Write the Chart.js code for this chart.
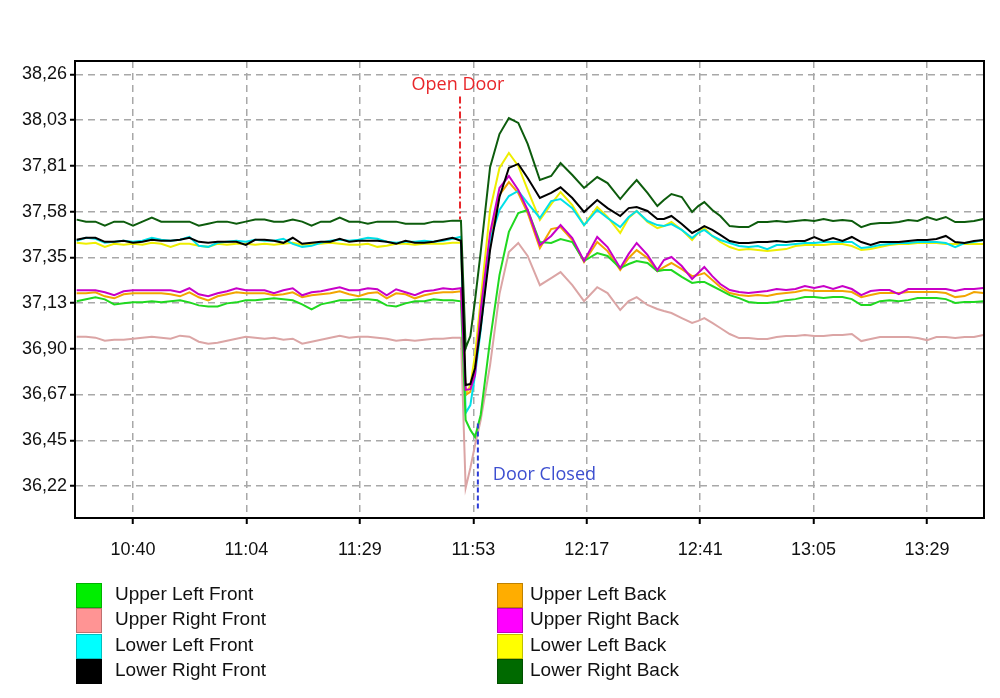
<!DOCTYPE html>
<html>
<head>
<meta charset="utf-8">
<title>Temperature chart</title>
<script src="https://cdn.jsdelivr.net/npm/chart.js@4.4.1/dist/chart.umd.min.js"></script>
<style>
  html, body { margin: 0; padding: 0; background: #fff; }
  #wrap { position: relative; width: 1000px; height: 698px; overflow: hidden; }
  #chart { position: absolute; left: 0; top: 0; }
  .legend-item { position: absolute; height: 25px; line-height: 25px; white-space: nowrap;
    font: 19px "Liberation Sans", Arial, sans-serif; color: #111; }
  .legend-item .sw { position: absolute; left: 0; top: 0; width: 26px; height: 25px;
    box-sizing: border-box; border: 1px solid rgba(0, 0, 0, 0.25); }
  .legend-item .tx { position: absolute; top: 0; }
</style>
</head>
<body>
<div id="wrap">
  <canvas id="chart" width="1000" height="698"></canvas>
  <div id="legend"></div>
</div>
<script>
// time of each reading, minutes after midnight
const minutesOfDay = [
  628, 630, 632, 634, 636, 638, 640, 642, 644, 646, 648, 650, 652, 654, 656, 658, 660, 662, 664, 666,
  668, 670, 672, 674, 676, 678, 680, 682, 684, 686, 688, 690, 692, 694, 696, 698, 700, 702, 704, 706,
  708, 709.8,
  710.8, 711.8, 712.8,
  714, 716, 718, 720, 722, 724, 726.6, 729, 731, 733.5, 736, 738.8, 741, 743.7, 745.5, 747.2, 749.5,
  751.6, 753, 754.6, 756.8, 759, 760.3, 761.6, 763.3, 765,
  767, 769, 771, 773, 775, 777, 779, 781, 783, 785, 787, 789, 791, 793, 795, 797, 799, 801, 803, 805,
  807, 809, 811, 813, 815, 817, 819, 821
];

const xTickLabels = ['10:40', '11:04', '11:29', '11:53', '12:17', '12:41', '13:05', '13:29'];
const yTickLabels = ['36,22', '36,45', '36,67', '36,90', '37,13', '37,35', '37,58', '37,81', '38,03', '38,26'];

const seriesNames = [
  'Upper Left Front', 'Upper Right Front', 'Lower Left Front', 'Lower Right Front',
  'Upper Left Back', 'Upper Right Back', 'Lower Left Back', 'Lower Right Back'
];

const upperLeftFront = [
  37.135, 37.145, 37.155, 37.145, 37.12, 37.125, 37.13, 37.13, 37.135, 37.13, 37.135, 37.14, 37.13, 37.115,
  37.11, 37.11, 37.125, 37.13, 37.14, 37.14, 37.145, 37.15, 37.145, 37.14, 37.12, 37.095, 37.12, 37.13,
  37.14, 37.14, 37.145, 37.145, 37.14, 37.115, 37.11, 37.125, 37.135, 37.135, 37.145, 37.14, 37.14, 37.135,
  36.547, 36.498, 36.463,
  36.572, 36.943, 37.265, 37.479, 37.573, 37.588, 37.429, 37.424, 37.444, 37.429, 37.335, 37.374, 37.36,
  37.30, 37.32, 37.335, 37.325, 37.285, 37.29, 37.29, 37.256, 37.226, 37.231, 37.231, 37.211, 37.191,
  37.166, 37.151, 37.132, 37.127, 37.127, 37.132, 37.141, 37.146, 37.156, 37.156, 37.151, 37.156, 37.156,
  37.146, 37.117, 37.117, 37.136, 37.141, 37.136, 37.141, 37.151, 37.151, 37.151, 37.146, 37.127, 37.132,
  37.132, 37.136
];
const upperRightFront = [
  36.96, 36.96, 36.955, 36.94, 36.945, 36.945, 36.95, 36.955, 36.96, 36.955, 36.95, 36.965, 36.96, 36.935,
  36.925, 36.93, 36.94, 36.95, 36.96, 36.955, 36.95, 36.955, 36.945, 36.95, 36.925, 36.935, 36.945, 36.955,
  36.965, 36.955, 36.96, 36.96, 36.955, 36.95, 36.94, 36.945, 36.94, 36.945, 36.95, 36.95, 36.955, 36.955,
  36.21, 36.309, 36.423,
  36.547, 36.819, 37.171, 37.379, 37.424, 37.36, 37.215, 37.25, 37.28, 37.215, 37.136, 37.205, 37.176,
  37.092, 37.136, 37.156, 37.117, 37.097, 37.087, 37.077, 37.052, 37.028, 37.038, 37.052, 37.028, 37.003,
  36.973, 36.953, 36.953, 36.948, 36.948, 36.958, 36.963, 36.963, 36.968, 36.963, 36.963, 36.968, 36.968,
  36.973, 36.938, 36.948, 36.958, 36.958, 36.958, 36.958, 36.953, 36.943, 36.958, 36.958, 36.953, 36.958,
  36.958, 36.968
];
const lowerLeftFront = [
  37.435, 37.45, 37.445, 37.425, 37.43, 37.435, 37.43, 37.435, 37.45, 37.44, 37.435, 37.44, 37.455, 37.41,
  37.405, 37.425, 37.43, 37.435, 37.43, 37.44, 37.435, 37.435, 37.445, 37.42, 37.405, 37.41, 37.425, 37.435,
  37.44, 37.435, 37.44, 37.45, 37.445, 37.43, 37.425, 37.43, 37.43, 37.435, 37.43, 37.435, 37.445, 37.455,
  36.582, 36.621, 36.77,
  36.993, 37.439, 37.588, 37.657, 37.682, 37.622, 37.548, 37.632, 37.642, 37.597, 37.513, 37.588, 37.548,
  37.503, 37.553, 37.583, 37.533, 37.513, 37.508, 37.518, 37.489, 37.449, 37.474, 37.489, 37.459, 37.439,
  37.424, 37.409, 37.404, 37.409, 37.394, 37.414, 37.414, 37.419, 37.424, 37.424, 37.429, 37.429, 37.429,
  37.429, 37.399, 37.404, 37.414, 37.419, 37.424, 37.424, 37.429, 37.429, 37.429, 37.424, 37.404, 37.424,
  37.429, 37.439
];
const lowerRightFront = [
  37.44, 37.45, 37.45, 37.43, 37.43, 37.435, 37.425, 37.43, 37.44, 37.435, 37.435, 37.44, 37.45, 37.43,
  37.425, 37.43, 37.43, 37.43, 37.415, 37.44, 37.44, 37.435, 37.425, 37.45, 37.42, 37.425, 37.43, 37.43,
  37.445, 37.43, 37.435, 37.435, 37.435, 37.43, 37.42, 37.435, 37.425, 37.425, 37.43, 37.44, 37.45, 37.435,
  36.72, 36.725, 36.805,
  37.003, 37.389, 37.652, 37.796, 37.816, 37.746, 37.647, 37.672, 37.70, 37.647, 37.578, 37.637, 37.597,
  37.558, 37.597, 37.602, 37.583, 37.543, 37.543, 37.558, 37.518, 37.474, 37.489, 37.508, 37.489, 37.464,
  37.434, 37.424, 37.424, 37.429, 37.429, 37.434, 37.429, 37.434, 37.434, 37.454, 37.434, 37.449, 37.434,
  37.454, 37.429, 37.414, 37.429, 37.429, 37.429, 37.434, 37.439, 37.439, 37.444, 37.459, 37.429, 37.424,
  37.434, 37.439
];
const upperLeftBack = [
  37.175, 37.175, 37.18, 37.16, 37.15, 37.17, 37.175, 37.175, 37.175, 37.175, 37.17, 37.16, 37.18, 37.155,
  37.14, 37.16, 37.17, 37.18, 37.175, 37.175, 37.175, 37.165, 37.17, 37.18, 37.155, 37.165, 37.17, 37.175,
  37.185, 37.17, 37.16, 37.175, 37.18, 37.15, 37.175, 37.17, 37.15, 37.165, 37.175, 37.18, 37.18, 37.185,
  36.671, 36.686, 36.795,
  37.067, 37.449, 37.662, 37.726, 37.672, 37.573, 37.399, 37.493, 37.503, 37.439, 37.33, 37.429, 37.384,
  37.29, 37.35, 37.389, 37.35, 37.285, 37.305, 37.325, 37.295, 37.26, 37.265, 37.275, 37.241, 37.206,
  37.176, 37.166, 37.161, 37.166, 37.161, 37.171, 37.176, 37.181, 37.191, 37.186, 37.186, 37.186, 37.186,
  37.181, 37.156, 37.166, 37.176, 37.176, 37.176, 37.181, 37.181, 37.181, 37.181, 37.176, 37.156, 37.161,
  37.181, 37.176
];
const upperRightBack = [
  37.19, 37.19, 37.19, 37.18, 37.165, 37.185, 37.19, 37.19, 37.19, 37.19, 37.19, 37.18, 37.2, 37.17,
  37.16, 37.175, 37.185, 37.2, 37.19, 37.19, 37.19, 37.175, 37.19, 37.2, 37.165, 37.18, 37.185, 37.195,
  37.205, 37.19, 37.19, 37.2, 37.195, 37.165, 37.195, 37.18, 37.165, 37.185, 37.19, 37.2, 37.195, 37.2,
  36.696, 36.70, 36.77,
  37.092, 37.474, 37.697, 37.756, 37.687, 37.588, 37.414, 37.459, 37.513, 37.449, 37.335, 37.454, 37.404,
  37.30, 37.37, 37.424, 37.365, 37.29, 37.34, 37.355, 37.31, 37.246, 37.275, 37.305, 37.26, 37.221,
  37.191, 37.181, 37.176, 37.181, 37.186, 37.196, 37.191, 37.196, 37.211, 37.201, 37.211, 37.196, 37.211,
  37.196, 37.166, 37.186, 37.191, 37.191, 37.171, 37.196, 37.196, 37.196, 37.196, 37.196, 37.186, 37.196,
  37.196, 37.201
];
const lowerLeftBack = [
  37.425, 37.42, 37.425, 37.405, 37.42, 37.415, 37.42, 37.415, 37.425, 37.42, 37.405, 37.42, 37.42, 37.41,
  37.405, 37.42, 37.415, 37.42, 37.42, 37.415, 37.42, 37.415, 37.42, 37.425, 37.415, 37.42, 37.42, 37.425,
  37.42, 37.415, 37.415, 37.42, 37.405, 37.41, 37.42, 37.42, 37.415, 37.42, 37.42, 37.42, 37.425, 37.425,
  36.671, 36.72, 36.87,
  37.142, 37.588, 37.796, 37.87, 37.806, 37.687, 37.538, 37.617, 37.677, 37.612, 37.513, 37.602, 37.553,
  37.474, 37.548, 37.583, 37.528, 37.498, 37.508, 37.528, 37.489, 37.439, 37.474, 37.498, 37.459, 37.429,
  37.404, 37.389, 37.394, 37.389, 37.384, 37.389, 37.394, 37.409, 37.414, 37.414, 37.414, 37.419, 37.419,
  37.409, 37.389, 37.394, 37.404, 37.414, 37.419, 37.419, 37.424, 37.424, 37.424, 37.419, 37.419, 37.419,
  37.419, 37.419
];
const lowerRightBack = [
  37.54, 37.53, 37.53, 37.51, 37.53, 37.53, 37.51, 37.53, 37.55, 37.53, 37.53, 37.53, 37.53, 37.51,
  37.52, 37.53, 37.53, 37.52, 37.53, 37.54, 37.54, 37.53, 37.53, 37.54, 37.53, 37.51, 37.53, 37.53,
  37.55, 37.53, 37.53, 37.52, 37.53, 37.53, 37.53, 37.52, 37.52, 37.52, 37.53, 37.53, 37.535, 37.535,
  36.904, 36.963, 37.141,
  37.379, 37.80, 37.964, 38.043, 38.019, 37.915, 37.736, 37.756, 37.82, 37.761, 37.697, 37.751, 37.721,
  37.642, 37.692, 37.736, 37.672, 37.607, 37.637, 37.667, 37.652, 37.578, 37.607, 37.627, 37.588, 37.558,
  37.508, 37.503, 37.503, 37.528, 37.528, 37.533, 37.528, 37.533, 37.538, 37.533, 37.543, 37.533, 37.538,
  37.533, 37.503, 37.518, 37.523, 37.523, 37.528, 37.538, 37.533, 37.553, 37.538, 37.553, 37.528, 37.528,
  37.533, 37.543
];

// door events (minutes after midnight)
const openDoorMinute = 709.6;
const doorClosedMinute = 713.4;

const allSeries = [upperLeftFront, upperRightFront, lowerLeftFront, lowerRightFront,
  upperLeftBack, upperRightBack, lowerLeftBack, lowerRightBack];
const lineColors = ['#20d820', '#dba5a5', '#00e0e8', '#000000', '#f2a500', '#c800c8', '#eeee00', '#0d5c0d'];
const swatchColors = ['#00ee00', '#ff9494', '#00ffff', '#000000', '#ffad00', '#ff00ff', '#ffff00', '#006a00'];
const drawOrder = [2, 2, 2, 1, 2, 1, 3, 1];

const toMinutes = (t) => { const p = t.split(':'); return +p[0] * 60 + +p[1]; };
const xFirst = toMinutes(xTickLabels[0]);
const xStep = (toMinutes(xTickLabels[xTickLabels.length - 1]) - xFirst) / (xTickLabels.length - 1);
const xTickValues = xTickLabels.map((l, i) => xFirst + i * xStep);
const yFirst = parseFloat(yTickLabels[0].replace(',', '.'));
const yStep = (parseFloat(yTickLabels[yTickLabels.length - 1].replace(',', '.')) - yFirst) / (yTickLabels.length - 1);
const yTickValues = yTickLabels.map((l, i) => yFirst + i * yStep);

const tickFont = { family: '"Liberation Sans", Arial, sans-serif', size: 18 };

// black box round the plot area
const frame = {
  id: 'frame',
  afterDatasetsDraw(chart) {
    const { ctx, chartArea: a } = chart;
    ctx.save();
    ctx.strokeStyle = '#000';
    ctx.lineWidth = 2;
    ctx.strokeRect(a.left, a.top, a.right - a.left, a.bottom - a.top);
    ctx.restore();
  }
};

// open / closed door markers
const doorMarks = {
  id: 'doorMarks',
  afterDatasetsDraw(chart) {
    const { ctx, scales: { x, y } } = chart;
    ctx.save();
    ctx.lineWidth = 2;
    // open door
    let px = x.getPixelForValue(openDoorMinute);
    ctx.strokeStyle = '#e8262a';
    ctx.setLineDash([7, 3, 2, 3]);
    ctx.beginPath();
    ctx.moveTo(px, y.getPixelForValue(38.15));
    ctx.lineTo(px, y.getPixelForValue(37.54));
    ctx.stroke();
    ctx.setLineDash([]);
    ctx.fillStyle = '#e8262a';
    ctx.font = '18px "Open Sans", sans-serif';
    ctx.textAlign = 'center';
    ctx.textBaseline = 'middle';
    ctx.fillText('Open Door', px - 2, y.getPixelForValue(38.208));
    // door closed
    px = x.getPixelForValue(doorClosedMinute);
    ctx.strokeStyle = '#2a3ad8';
    ctx.setLineDash([5, 3]);
    ctx.beginPath();
    ctx.moveTo(px, y.getPixelForValue(36.53));
    ctx.lineTo(px, y.getPixelForValue(36.10));
    ctx.stroke();
    ctx.setLineDash([]);
    ctx.fillStyle = '#3d4fd0';
    ctx.textAlign = 'left';
    ctx.fillText('Door Closed', px + 15, y.getPixelForValue(36.275));
    ctx.restore();
  }
};

const chart = new Chart(document.getElementById('chart').getContext('2d'), {
  type: 'line',
  data: {
    datasets: allSeries.map((values, i) => ({
      label: seriesNames[i],
      data: values.map((v, j) => ({ x: minutesOfDay[j], y: v })),
      borderColor: lineColors[i],
      backgroundColor: swatchColors[i],
      order: drawOrder[i]
    }))
  },
  options: {
    responsive: false,
    animation: false,
    layout: { padding: { left: 0, right: 16, top: 61, bottom: 128 } },
    elements: {
      point: { radius: 0 },
      line: { borderWidth: 2, tension: 0 }
    },
    plugins: {
      legend: { display: false },
      tooltip: { enabled: false }
    },
    scales: {
      x: {
        type: 'linear',
        min: 627.65,
        max: 821.13,
        afterBuildTicks: (scale) => { scale.ticks = xTickValues.map((v) => ({ value: v })); },
        afterFit: (scale) => { scale.height = 52; },
        ticks: {
          callback: (value, index) => xTickLabels[index],
          font: tickFont,
          color: '#111',
          padding: 15,
          maxRotation: 0,
          autoSkip: false
        },
        grid: { color: '#a8a8a8', lineWidth: 1.5, tickLength: 6, tickColor: '#000', tickWidth: 2 },
        border: { color: '#000', width: 2, dash: [7, 5] }
      },
      y: {
        min: 36.0614,
        max: 38.326,
        afterBuildTicks: (scale) => { scale.ticks = yTickValues.map((v) => ({ value: v })); },
        afterFit: (scale) => { scale.width = 75; },
        ticks: {
          callback: (value, index) => yTickLabels[index],
          font: tickFont,
          color: '#111',
          padding: 3,
          autoSkip: false
        },
        grid: { color: '#a8a8a8', lineWidth: 1.5, tickLength: 5, tickColor: '#000', tickWidth: 2 },
        border: { color: '#000', width: 2, dash: [7, 5] }
      }
    }
  },
  plugins: [frame, doorMarks]
});

// legend in two columns of four, built from the datasets
const legendEl = document.getElementById('legend');
chart.data.datasets.forEach((ds, i) => {
  const col = Math.floor(i / 4);
  const row = i % 4;
  const item = document.createElement('div');
  item.className = 'legend-item';
  item.style.left = (col ? 497 : 76) + 'px';
  item.style.top = (583 + row * 25.3) + 'px';
  const sw = document.createElement('span');
  sw.className = 'sw';
  sw.style.background = ds.backgroundColor;
  const tx = document.createElement('span');
  tx.className = 'tx';
  tx.style.left = (col ? 33 : 39) + 'px';
  tx.textContent = ds.label;
  item.appendChild(sw);
  item.appendChild(tx);
  legendEl.appendChild(item);
});
</script>
</body>
</html>
